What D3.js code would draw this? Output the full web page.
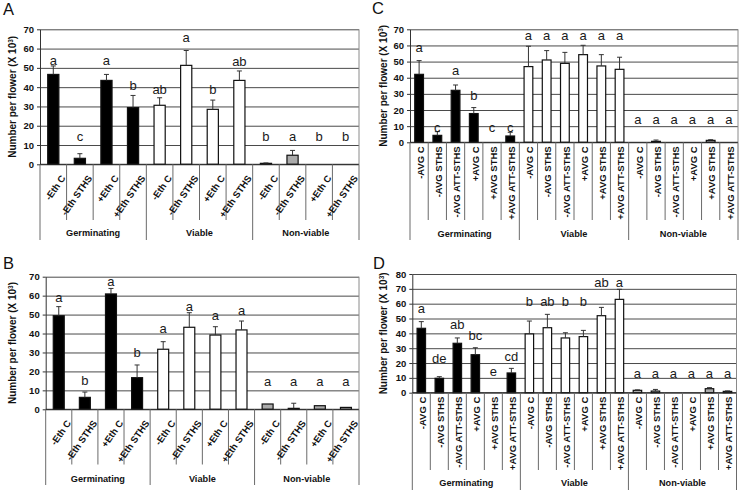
<!DOCTYPE html>
<html><head><meta charset="utf-8">
<script src="https://cdn.jsdelivr.net/npm/d3@7"></script>
<style>
html,body{margin:0;padding:0;background:#fff;}
svg{display:block;}
text{font-family:"Liberation Sans",Arial,sans-serif;}
</style></head>
<body>
<svg id="chart" width="739" height="493"></svg>
<script>
// ---------- data ----------
const groups = ["Germinating", "Viable", "Non-viable"];
const ethTreatments = ["-Eth C", "-Eth STHS", "+Eth C", "+Eth STHS"];
const avgTreatments = ["-AVG C", "-AVG STHS", "-AVG ATT-STHS", "+AVG C", "+AVG STHS", "+AVG ATT-STHS"];
const ticks70 = [0, 10, 20, 30, 40, 50, 60, 70];
const ticks80 = [0, 10, 20, 30, 40, 50, 60, 70, 80];

// Panel A
const aValues  = [46.6, 3.1, 43.5, 29.4, 30.6, 51.3, 28.5, 43.5, 0.5, 4.7, 0, 0];
const aErrors  = [4.4, 2.4, 3.1, 6.3, 3.9, 7.7, 4.8, 4.9, 0.2, 2.5, 0, 0];
const aLetters = ["a", "c", "a", "b", "ab", "a", "b", "ab", "b", "a", "b", "b"];
const aLetterY = [54, 14.7, 54, 41, 38.9, 65.6, 39, 53.5, 14.3, 14.3, 14.3, 14.3];

// Panel B
const bValues  = [49.4, 6.3, 60.9, 16.7, 31.7, 43.3, 39.2, 41.9, 2.8, 0.5, 1.9, 1.0];
const bErrors  = [4.8, 2.8, 2.9, 6.7, 4.0, 7.7, 4.4, 4.7, 0, 2.7, 0, 0];
const bLetters = ["a", "b", "a", "b", "a", "a", "a", "a", "a", "a", "a", "a"];
const bLetterY = [59.1, 15, 67.4, 30.1, 42.8, 54.5, 49.8, 52, 14.6, 14.6, 14.6, 14.6];

// Panel C
const cValues  = [42.1, 4.3, 32.2, 17.8, 0, 3.9, 46.9, 51.0, 48.9, 54.3, 47.3, 45.2, 0, 0.6, 0, 0, 1.2, 0];
const cErrors  = [8.5, 2.3, 3.3, 3.7, 0, 2.3, 12.6, 5.8, 6.8, 5.8, 7.0, 7.5, 0, 0.8, 0, 0, 0.4, 0];
const cLetters = ["a", "c", "a", "b", "c", "c", "a", "a", "a", "a", "a", "a", "a", "a", "a", "a", "a", "a"];
const cLetterY = [58.6, 9, 44.4, 28.9, 9, 9, 66.5, 66.5, 66.5, 66.5, 66.5, 66.5, 14.4, 14.4, 14.4, 14.4, 14.4, 14.4];

// Panel D
const dValues  = [43.4, 9.7, 33.3, 25.6, 0, 13.3, 39.6, 43.8, 36.9, 37.8, 51.9, 62.9, 1.6, 1.1, 0, 0, 2.7, 0.9];
const dErrors  = [4.5, 1.1, 3.6, 4.7, 0, 3.1, 8.7, 9.0, 3.5, 4.2, 5.6, 6.8, 0.3, 1.1, 0, 0, 0.7, 0.3];
const dLetters = ["a", "de", "ab", "bc", "e", "cd", "b", "ab", "b", "b", "ab", "a", "a", "a", "a", "a", "a", "a"];
const dLetterY = [57, 23.3, 46.3, 38.9, 14.6, 24.7, 61.5, 61.5, 61.5, 61.5, 74.4, 74.4, 13, 13, 13, 13, 13, 13];

const groupFill = {"Germinating": "#000000", "Viable": "#ffffff", "Non-viable": "#ababab"};

// ---------- drawing ----------
const svg = d3.select("#chart");

function drawPanel(cfg) {
  const g = svg.append("g");
  const n = cfg.values.length;
  const nt = cfg.treatments.length;
  const rows = cfg.values.map((v, i) => ({
    i, v, se: cfg.errors[i], letter: cfg.letters[i], ly: cfg.letterY[i],
    group: groups[Math.floor(i / nt)], treat: cfg.treatments[i % nt]
  }));

  const x = d3.scaleBand().domain(d3.range(n)).range([cfg.left, cfg.right]).paddingInner(0).paddingOuter(0);
  const y = d3.scaleLinear().domain([0, cfg.yMax]).range([cfg.bottom, cfg.top]);
  const bw = x.bandwidth() * cfg.barRatio;

  // panel letter
  g.append("text").attr("x", cfg.lx).attr("y", cfg.ly)
    .attr("font-size", 16.5).attr("fill", "#111").text(cfg.name);

  // gridlines
  const grid = g.append("g").attr("transform", `translate(${cfg.left},0)`)
    .call(d3.axisLeft(y).tickValues(cfg.ticks).tickSize(-(cfg.right - cfg.left)).tickFormat(""));
  grid.select(".domain").remove();
  grid.selectAll(".tick line").attr("stroke", "#4a4a4a").attr("stroke-width", 1);

  // right border
  g.append("line").attr("x1", cfg.right).attr("x2", cfg.right).attr("y1", cfg.top).attr("y2", cfg.bottom)
    .attr("stroke", "#8a8a8a");

  // y axis
  const ax = g.append("g").attr("transform", `translate(${cfg.left},0)`)
    .call(d3.axisLeft(y).tickValues(cfg.ticks).tickSize(3).tickPadding(3).tickSizeOuter(0));
  ax.select(".domain").attr("stroke", "#333");
  ax.selectAll(".tick line").attr("stroke", "#333");
  ax.selectAll(".tick text").attr("font-size", 9.5).attr("font-weight", "bold").attr("fill", "#111")
    .attr("font-family", "Liberation Sans, Arial, sans-serif");

  // y title
  const tt = g.append("text")
    .attr("transform", `translate(${cfg.titleX},${(cfg.top + cfg.bottom) / 2}) rotate(-90)`)
    .attr("text-anchor", "middle").attr("dy", "0.35em")
    .attr("font-size", 10).attr("font-weight", "bold").attr("fill", "#111");
  tt.append("tspan").text("Number per flower (X 10");
  tt.append("tspan").attr("font-size", 6.5).attr("dy", "-0.5em").text("3");
  tt.append("tspan").attr("dy", "0.33em").text(")");

  // bars
  g.append("g").selectAll("rect").data(rows.filter(d => d.v > 0)).join("rect")
    .attr("x", d => x(d.i) + (x.bandwidth() - bw) / 2)
    .attr("y", d => y(d.v))
    .attr("width", bw)
    .attr("height", d => y(0) - y(d.v))
    .attr("fill", d => groupFill[d.group])
    .attr("stroke", "#111").attr("stroke-width", 1.2);

  // error bars
  const eb = g.append("g").attr("stroke", "#333").attr("stroke-width", 1);
  rows.filter(d => d.se > 0).forEach(d => {
    const cx = x(d.i) + x.bandwidth() / 2;
    eb.append("line").attr("x1", cx).attr("x2", cx).attr("y1", y(d.v)).attr("y2", y(d.v + d.se));
    eb.append("line").attr("x1", cx - 2.5).attr("x2", cx + 2.5).attr("y1", y(d.v + d.se)).attr("y2", y(d.v + d.se));
  });

  // x axis line (zero)
  g.append("line").attr("x1", cfg.left).attr("x2", cfg.right).attr("y1", y(0)).attr("y2", y(0))
    .attr("stroke", "#222").attr("stroke-width", 1);

  // significance letters
  g.append("g").selectAll("text").data(rows).join("text")
    .attr("x", d => x(d.i) + x.bandwidth() / 2)
    .attr("y", d => y(d.ly)).attr("dy", "0.35em")
    .attr("text-anchor", "middle").attr("font-size", 13).attr("fill", "#1a1a1a")
    .text(d => d.letter);

  // category dividers below axis
  const lines = g.append("g").attr("stroke", "#6a6a6a").attr("stroke-width", 1);
  d3.range(n + 1).forEach(k => {
    const xx = k < n ? x(k) : cfg.right;
    const isGroup = k % nt === 0;
    lines.append("line").attr("x1", xx).attr("x2", xx)
      .attr("y1", y(0)).attr("y2", isGroup ? cfg.grpBottom : cfg.subBottom);
  });

  // category labels
  g.append("g").selectAll("text").data(rows).join("text")
    .attr("transform", d => {
      const cx = x(d.i) + x.bandwidth() / 2;
      return `translate(${cx + cfg.labDx},${y(0) + cfg.labDy}) rotate(${cfg.rot})`;
    })
    .attr("text-anchor", "end").attr("dy", "0.35em")
    .attr("font-size", 9.5).attr("font-weight", "bold").attr("fill", "#111")
    .text(d => d.treat);

  // group labels
  g.append("g").selectAll("text").data(groups).join("text")
    .attr("x", (d, k) => (x(k * nt) + (k * nt + nt < n ? x(k * nt + nt) : cfg.right)) / 2)
    .attr("y", cfg.grpLabelY).attr("dy", "0.35em")
    .attr("text-anchor", "middle").attr("font-size", 9.2).attr("font-weight", "bold").attr("fill", "#111")
    .text(d => d);
}

drawPanel({name: "A", lx: 3, ly: 15, left: 40, right: 359, top: 29.3, bottom: 164.3, yMax: 70, ticks: ticks70,
  treatments: ethTreatments, values: aValues, errors: aErrors, letters: aLetters, letterY: aLetterY,
  barRatio: 0.42, titleX: 12.5, subBottom: 220, grpBottom: 240, grpLabelY: 233, rot: -55, labDx: 10, labDy: 12});

drawPanel({name: "B", lx: 3, ly: 269, left: 45.7, right: 359, top: 276.7, bottom: 409.3, yMax: 70, ticks: ticks70,
  treatments: ethTreatments, values: bValues, errors: bErrors, letters: bLetters, letterY: bLetterY,
  barRatio: 0.42, titleX: 12.5, subBottom: 464.5, grpBottom: 485, grpLabelY: 479, rot: -55, labDx: 10, labDy: 12});

drawPanel({name: "C", lx: 372, ly: 14, left: 410, right: 738, top: 29.3, bottom: 142.3, yMax: 70, ticks: ticks70,
  treatments: avgTreatments, values: cValues, errors: cErrors, letters: cLetters, letterY: cLetterY,
  barRatio: 0.48, titleX: 383, subBottom: 220, grpBottom: 240, grpLabelY: 234, rot: -90, labDx: 1.5, labDy: 4});

drawPanel({name: "D", lx: 373, ly: 269, left: 412.3, right: 736.5, top: 274, bottom: 392.7, yMax: 80, ticks: ticks80,
  treatments: avgTreatments, values: dValues, errors: dErrors, letters: dLetters, letterY: dLetterY,
  barRatio: 0.47, titleX: 383.5, subBottom: 470, grpBottom: 490, grpLabelY: 483, rot: -90, labDx: 1.5, labDy: 4});
</script>
</body></html>
